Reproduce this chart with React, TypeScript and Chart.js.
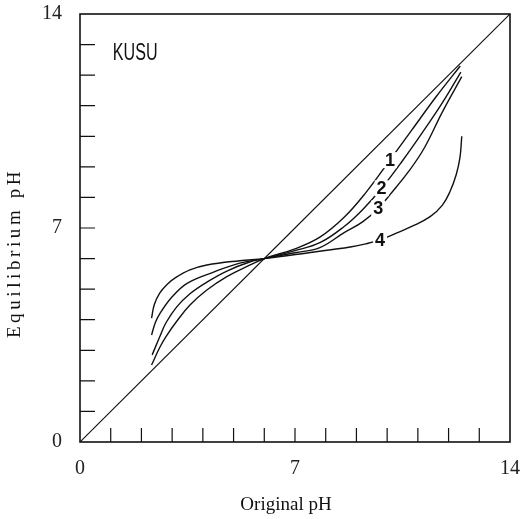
import React, { useEffect, useRef } from "react";
import { Chart, registerables } from "chart.js";

Chart.register(...registerables);

// Curve 1
const x1 = [2.33, 2.6, 2.8, 3.15, 3.58, 4.13, 4.78, 5.54, 6.0, 7.0, 7.81, 8.6, 9.3, 10.09, 10.8, 11.6, 12.38];
const y1 = [2.52, 3.1, 3.45, 3.95, 4.48, 4.97, 5.41, 5.79, 6.0, 6.32, 6.7, 7.35, 8.15, 9.22, 10.2, 11.3, 12.3];
// Curve 2
const x2 = [2.35, 2.6, 2.8, 3.15, 3.58, 4.13, 4.8, 5.5, 6.0, 7.0, 7.81, 8.6, 9.2, 9.82, 10.5, 11.2, 11.8, 12.4];
const y2 = [2.85, 3.45, 3.9, 4.42, 4.85, 5.23, 5.6, 5.88, 6.0, 6.26, 6.52, 7.05, 7.6, 8.3, 9.2, 10.2, 11.1, 12.1];
// Curve 3
const x3 = [2.33, 2.45, 2.6, 3.0, 3.5, 4.33, 5.2, 6.0, 7.0, 7.81, 8.6, 9.2, 9.71, 10.1, 10.7, 11.2, 11.8, 12.43];
const y3 = [3.5, 3.9, 4.2, 4.75, 5.2, 5.55, 5.85, 6.0, 6.19, 6.36, 6.85, 7.2, 7.64, 8.1, 8.85, 9.6, 10.8, 11.95];
// Curve 4
const x4 = [2.33, 2.42, 2.6, 2.85, 3.1, 3.58, 4.13, 5.2, 6.0, 7.5, 8.8, 9.3, 9.77, 10.3, 10.8, 11.4, 11.8, 12.05, 12.25, 12.37, 12.43];
const y4 = [4.05, 4.5, 4.88, 5.17, 5.37, 5.63, 5.79, 5.93, 6.0, 6.2, 6.38, 6.48, 6.61, 6.83, 7.05, 7.37, 7.75, 8.2, 8.75, 9.3, 10.0];
// Identity line
const xDiag = [0, 14];
const yDiag = [0, 14];

const xLabeledTicks = [0, 7, 14];
const yLabeledTicks = [0, 7, 14];
const curveLabels = ["1", "2", "3", "4"];
const curveLabelX = [10.09, 9.82, 9.71, 9.77];
const curveLabelY = [9.22, 8.3, 7.64, 6.61];
const panelLabel = "KUSU";
const panelLabelX = 1.07;
const panelLabelY = 12.72;
const xTitle = "Original pH";
const yTitle = "Equilibrium pH";

const toPts = (xs: number[], ys: number[]) => xs.map((x, i) => ({ x, y: ys[i] }));

const decorPlugin = {
  id: "decor",
  afterDatasetsDraw(chart: any) {
    const { ctx, chartArea, scales } = chart;
    const { left, right, top, bottom } = chartArea;
    const xs = scales.x;
    const ys = scales.y;
    ctx.save();
    // frame
    ctx.strokeStyle = "#111";
    ctx.lineWidth = 1.6;
    ctx.strokeRect(left, top, right - left, bottom - top);
    // inward ticks
    ctx.lineWidth = 1.2;
    ctx.beginPath();
    for (let v = 1; v <= 13; v++) {
      const px = xs.getPixelForValue(v);
      ctx.moveTo(px, bottom);
      ctx.lineTo(px, bottom - 14);
      const py = ys.getPixelForValue(v);
      ctx.moveTo(left, py);
      ctx.lineTo(left + 15, py);
    }
    ctx.stroke();
    // curve labels
    ctx.font = '600 18px "Liberation Sans"';
    ctx.textAlign = "center";
    ctx.textBaseline = "middle";
    curveLabels.forEach((t, i) => {
      const px = xs.getPixelForValue(curveLabelX[i]);
      const py = ys.getPixelForValue(curveLabelY[i]);
      const w = ctx.measureText(t).width;
      ctx.fillStyle = "#fff";
      ctx.fillRect(px - w / 2 - 2, py - 8, w + 4, 16);
      ctx.fillStyle = "#111";
      ctx.fillText(t, px, py + 1);
    });
    // panel label (condensed sans)
    ctx.save();
    ctx.font = '23px "Liberation Sans"';
    ctx.textAlign = "left";
    ctx.translate(xs.getPixelForValue(panelLabelX), ys.getPixelForValue(panelLabelY) + 1);
    ctx.scale(0.7, 1);
    ctx.fillText(panelLabel, 0, 0);
    ctx.restore();
    // axis titles
    ctx.fillStyle = "#111";
    ctx.font = '19px "Liberation Serif"';
    ctx.textAlign = "center";
    ctx.fillText(xTitle, 286, 505);
    ctx.translate(15, 253);
    ctx.rotate(-Math.PI / 2);
    (ctx as any).letterSpacing = "3.6px";
    ctx.fillText(yTitle, 0, 0);
    ctx.restore();
  },
};

export default function App() {
  const ref = useRef<HTMLCanvasElement | null>(null);
  useEffect(() => {
    if (!ref.current) return;
    const line = (xs: number[], ys: number[], w = 1.4) => ({
      data: toPts(xs, ys),
      borderColor: "#111",
      borderWidth: w,
      pointRadius: 0,
      fill: false,
      tension: 0.4,
    });
    const chart = new Chart(ref.current, {
      type: "line",
      data: {
        datasets: [
          line(xDiag, yDiag, 1.1),
          line(x1, y1),
          line(x2, y2),
          line(x3, y3),
          line(x4, y4),
        ],
      },
      options: {
        responsive: false,
        animation: false,
        events: [],
        layout: { padding: { left: 0, top: 14, right: 11, bottom: 0 } },
        plugins: { legend: { display: false }, tooltip: { enabled: false } },
        scales: {
          x: {
            type: "linear",
            min: 0,
            max: 14,
            afterFit: (s: any) => {
              s.height = 77;
              s.paddingLeft = 0;
              s.paddingRight = 0;
            },
            grid: { display: false },
            border: { display: false },
            ticks: {
              stepSize: 1,
              autoSkip: false,
              maxRotation: 0,
              padding: 7,
              color: "#222",
              font: { family: "Liberation Serif", size: 20 },
              callback: (v: any) => (xLabeledTicks.includes(Number(v)) ? String(v) : ""),
            },
          },
          y: {
            type: "linear",
            min: 0,
            max: 14,
            afterFit: (s: any) => {
              s.width = 80;
              s.paddingTop = 0;
              s.paddingBottom = 0;
            },
            grid: { display: false },
            border: { display: false },
            ticks: {
              stepSize: 1,
              autoSkip: false,
              padding: 10,
              color: "#222",
              font: { family: "Liberation Serif", size: 20 },
              callback: (v: any) => (yLabeledTicks.includes(Number(v)) ? String(v) : ""),
            },
          },
        },
      },
      plugins: [decorPlugin],
    });
    return () => chart.destroy();
  }, []);
  return (
    <div style={{ position: "absolute", left: 0, top: 0, width: 521, height: 519, background: "#fff" }}>
      <canvas ref={ref} width={521} height={519} />
    </div>
  );
}
